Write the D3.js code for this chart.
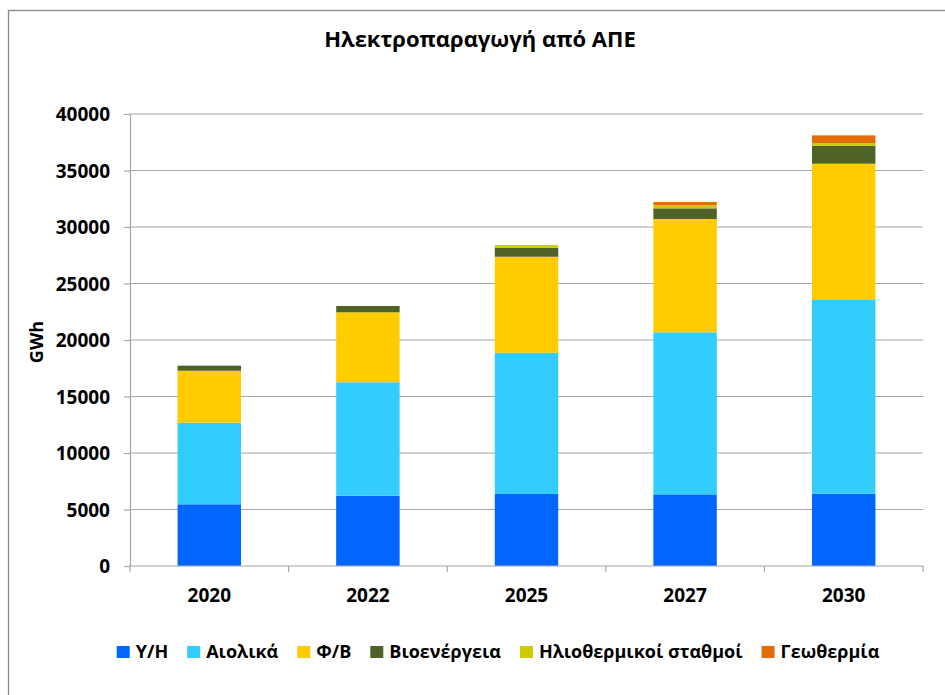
<!DOCTYPE html>
<html>
<head>
<meta charset="utf-8">
<script src="https://cdn.jsdelivr.net/npm/d3@7"></script>
<style>
  html, body { margin: 0; padding: 0; background: #fff; }
  svg { display: block; }
  text { font-family: "Open Sans", "Noto Sans", sans-serif; font-weight: bold; fill: #000; }
</style>
</head>
<body>
<svg id="chart" width="945" height="695"></svg>
<script>
// Years on the category axis
const years = ["2020", "2022", "2025", "2027", "2030"];

// Electricity generation per renewable source, GWh
const hydro      = [5460, 6220, 6370, 6340, 6400];
const wind       = [7220, 10040, 12510, 14340, 17140];
const solarPV    = [4600, 6190, 8490, 10030, 12060];
const bioenergy  = [450, 560, 800, 940, 1600];
const solarTherm = [0, 0, 230, 300, 230];
const geothermal = [0, 0, 0, 260, 680];

const seriesNames  = ["Υ/Η", "Αιολικά", "Φ/Β", "Βιοενέργεια", "Ηλιοθερμικοί σταθμοί", "Γεωθερμία"];
const seriesValues = [hydro, wind, solarPV, bioenergy, solarTherm, geothermal];
const seriesColors = ["#0066FF", "#33CCFF", "#FFCC00", "#4F6228", "#CCCC00", "#E36C09"];

const yTicks = [0, 5000, 10000, 15000, 20000, 25000, 30000, 35000, 40000];

const title = "Ηλεκτροπαραγωγή από ΑΠΕ";
const yLabel = "GWh";

// ---- table for the stack layout ----
const rows = years.map((yr, i) => {
  const r = { year: yr };
  seriesNames.forEach((n, s) => { r[n] = seriesValues[s][i]; });
  return r;
});
const stacked = d3.stack().keys(seriesNames)(rows);

const svg = d3.select("#chart");

// outer frame
svg.append("rect")
  .attr("x", 8.5).attr("y", 10.5)
  .attr("width", 945).attr("height", 695)
  .attr("fill", "#fff")
  .attr("stroke", "#878787").attr("stroke-width", 1.3);

const plot = { left: 130, right: 923, top: 114, bottom: 566 };

const x = d3.scaleBand()
  .domain(years)
  .range([plot.left, plot.right])
  .paddingInner(0.6)
  .paddingOuter(0.3);

const y = d3.scaleLinear()
  .domain([0, 40000])
  .range([plot.bottom, plot.top]);

const gridColor = "#A6A6A6";

// horizontal gridlines
svg.append("g")
  .selectAll("line")
  .data(yTicks.filter(t => t > 0))
  .join("line")
  .attr("x1", plot.left).attr("x2", plot.right)
  .attr("y1", d => y(d)).attr("y2", d => y(d))
  .attr("stroke", gridColor).attr("stroke-width", 1.2);

// y axis
const yAxis = svg.append("g")
  .attr("transform", `translate(${plot.left},0)`)
  .call(d3.axisLeft(y).tickValues(yTicks).tickSize(6).tickPadding(14).tickFormat(d3.format("d")));
yAxis.select(".domain").attr("stroke", gridColor).attr("stroke-width", 1.2);
yAxis.selectAll(".tick line").attr("stroke", gridColor).attr("stroke-width", 1.2);
yAxis.selectAll(".tick text")
  .attr("font-size", 19).attr("font-family", null).attr("dy", "0.35em")
  .style("font-family", "'Open Sans', sans-serif").style("font-weight", "bold");

// bars
svg.append("g")
  .selectAll("g")
  .data(stacked)
  .join("g")
  .attr("fill", (d, i) => seriesColors[i])
  .selectAll("rect")
  .data(d => d)
  .join("rect")
  .attr("x", d => x(d.data.year))
  .attr("width", x.bandwidth())
  .attr("y", d => y(d[1]))
  .attr("height", d => y(d[0]) - y(d[1]));

// x axis with ticks at category boundaries
const boundaries = d3.range(years.length + 1).map(i => plot.left + i * x.step());
const xg = svg.append("g");
xg.append("line")
  .attr("x1", plot.left).attr("x2", plot.right)
  .attr("y1", plot.bottom).attr("y2", plot.bottom)
  .attr("stroke", gridColor).attr("stroke-width", 1.2);
xg.selectAll("line.tk")
  .data(boundaries)
  .join("line")
  .attr("class", "tk")
  .attr("x1", d => d).attr("x2", d => d)
  .attr("y1", plot.bottom).attr("y2", plot.bottom + 6)
  .attr("stroke", gridColor).attr("stroke-width", 1.2);
xg.selectAll("text")
  .data(years)
  .join("text")
  .attr("x", d => x(d) + x.bandwidth() / 2)
  .attr("y", 602)
  .attr("text-anchor", "middle")
  .attr("font-size", 19)
  .text(d => d);

// title
svg.append("text")
  .attr("x", 480).attr("y", 47)
  .attr("text-anchor", "middle")
  .attr("font-size", 22)
  .text(title);

// y axis label
svg.append("text")
  .attr("transform", "translate(43,342) rotate(-90)")
  .attr("text-anchor", "middle")
  .attr("font-size", 18)
  .text(yLabel);

// legend, laid out left to right and centred
const legend = svg.append("g");
const items = legend.selectAll("g")
  .data(seriesNames)
  .join("g");
items.append("rect")
  .attr("width", 13).attr("height", 12)
  .attr("y", -12)
  .attr("fill", (d, i) => seriesColors[i]);
items.append("text")
  .attr("x", 19)
  .attr("font-size", 18)
  .text(d => d);

let cursor = 0;
items.each(function () {
  const w = this.querySelector("text").getComputedTextLength();
  d3.select(this).attr("transform", `translate(${cursor},0)`);
  cursor += 19 + w + 19;
});
const totalW = cursor - 19;
legend.attr("transform", `translate(${498 - totalW / 2},658)`);
</script>
</body>
</html>
